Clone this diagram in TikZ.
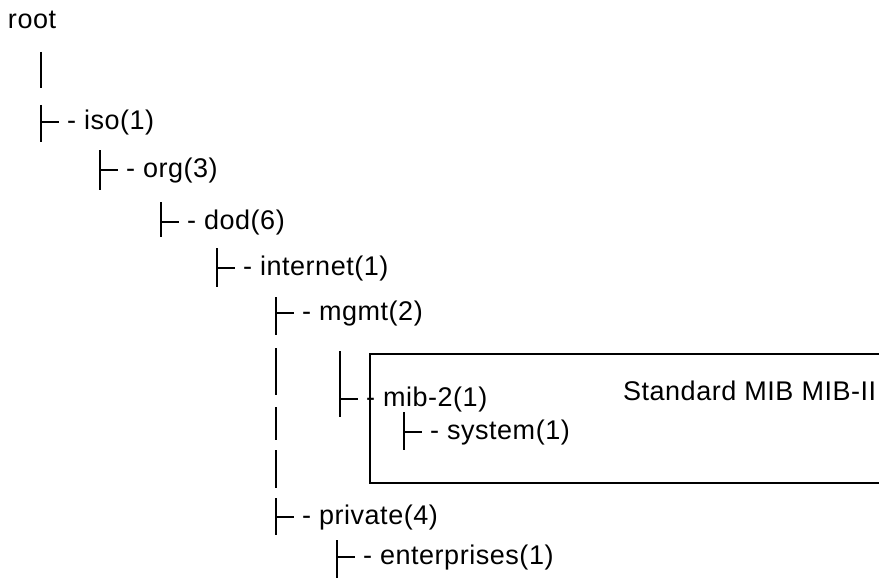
\documentclass[tikz,border=0pt]{standalone}
\usepackage{fontspec}
\setmainfont[LetterSpace=2]{Liberation Sans}

\begin{document}
\begin{tikzpicture}[x=1pt, y=-1pt, line width=2pt,
  entry/.style={anchor=west, inner sep=0pt, text height=19.7pt, text depth=5.7pt,
    font=\fontsize{27}{30}\selectfont},
  mibbox/.style={line width=2pt}]
  \useasboundingbox (0,0) rectangle (879,578);
  \node[entry] (root)        at (7,22)   {root};
  \node[entry] (iso)         at (66,122)  {- iso(1)};
  \node[entry] (org)         at (125,170) {- org(3)};
  \node[entry] (dod)         at (186,222) {- dod(6)};
  \node[entry] (internet)    at (242,268) {- internet(1)};
  \node[entry] (mgmt)        at (301,313) {- mgmt(2)};
  \node[entry] (mib2)        at (365,399) {- mib-2(1)};
  \node[entry] (system)      at (429,432) {- system(1)};
  \node[entry] (private)     at (301,517) {- private(4)};
  \node[entry] (enterprises) at (362,557) {- enterprises(1)};
  \node[entry, anchor=base west] (mib) at (622,400) {Standard MIB MIB-II};
  % box round the standard MIB part, open to the right
  \draw[mibbox] (885,354) -| (370,483) -- (885,483);
  % the bars and ticks of the tree
  \draw (41,52) -- (41,88);
  \foreach \n/\x/\t/\b in {iso/41/105/142, org/100/150/190, dod/161/202/237,
      internet/217/248/287, mgmt/276/297/335, mib2/340/351/417,
      system/404/412/450, private/276/498/535, enterprises/337/540/580}
    {\draw (\x,\t) -- (\x,\b);
     \draw (\x,0 |- \n.west) -- ([xshift=-7pt]\n.west);}
  \foreach \t/\b in {348/395, 407/440, 450/488}
    \draw (276,\t) -- (276,\b);
\end{tikzpicture}
\end{document}
